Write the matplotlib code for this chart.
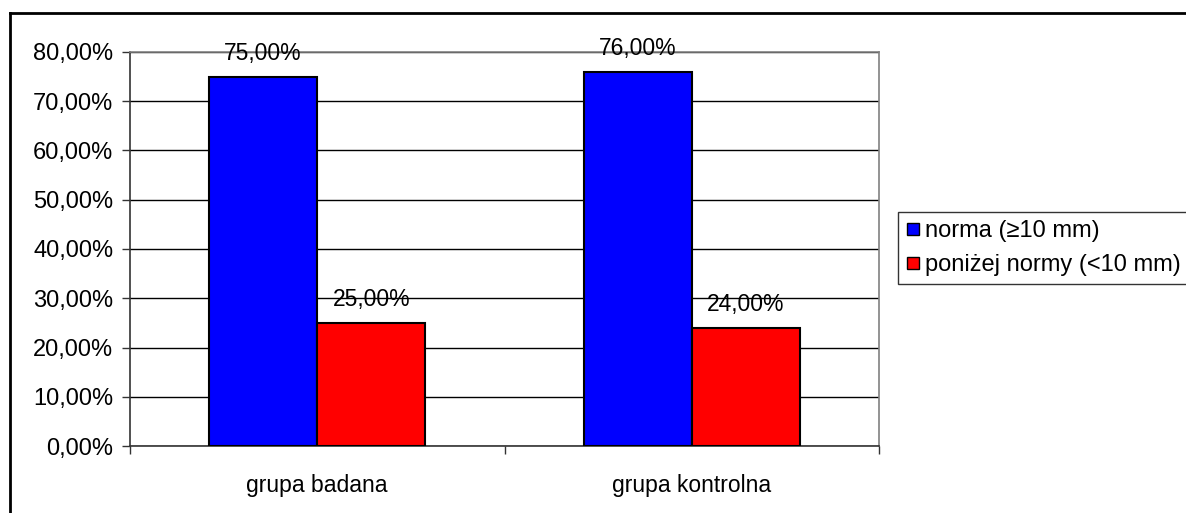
import numpy as np
import matplotlib
matplotlib.use('Agg')
import matplotlib.pyplot as plt
from matplotlib.lines import Line2D
from matplotlib.ticker import FuncFormatter, FixedLocator

plt.rc('font', family=['Liberation Sans', 'DejaVu Sans'], size=16.5)

# dane
grupy = ['grupa badana', 'grupa kontrolna']
norma = [75.0, 76.0]
ponizej = [25.0, 24.0]
serie = ['norma (≥10 mm)', 'poniżej normy (<10 mm)']
kolory = ['#0000ff', '#ff0000']

W, H = 1186, 513
fig = plt.figure(figsize=(W / 100, H / 100), dpi=100)
ax = fig.add_axes([130 / W, 1 - 446 / H, 749 / W, 394 / H])

x = np.arange(len(grupy))
w = 0.289
b1 = ax.bar(x - w / 2, norma, w, color=kolory[0], edgecolor='black', linewidth=1.5, zorder=3)
b2 = ax.bar(x + w / 2, ponizej, w, color=kolory[1], edgecolor='black', linewidth=1.5, zorder=3)

def pl(v):
    return '{:.2f}%'.format(v).replace('.', ',')

for bars, vals in [(b1, norma), (b2, ponizej)]:
    for r, v in zip(bars, vals):
        ax.annotate(pl(v), (r.get_x() + r.get_width() / 2, v), xytext=(0, 12),
                    textcoords='offset points', ha='center', va='baseline', zorder=4)

ax.set_xlim(-0.5, 1.5)
ax.set_ylim(0, 80)
ax.yaxis.set_major_locator(FixedLocator(np.arange(0, 81, 10)))
ax.yaxis.set_major_formatter(FuncFormatter(lambda v, p: pl(v)))
ax.grid(axis='y', color='black', linewidth=1, zorder=1)
ax.set_xticks(x)
ax.set_xticklabels(grupy)
ax.xaxis.set_minor_locator(FixedLocator([-0.5, 0.5, 1.5]))
ax.tick_params(axis='x', which='major', length=0, pad=20)
ax.tick_params(axis='x', which='minor', length=6, width=1, color='#333333')
ax.tick_params(axis='y', length=6, width=1, color='#333333', pad=6, labelsize=17)

for s in ['left', 'bottom']:
    ax.spines[s].set_color('#333333')
    ax.spines[s].set_linewidth(1.2)
for s in ['top', 'right']:
    ax.spines[s].set_color('#808080')
    ax.spines[s].set_linewidth(1.2)

uchwyty = [Line2D([], [], marker='s', linestyle='', markersize=9, markerfacecolor=c,
                  markeredgecolor='black', markeredgewidth=1) for c in kolory]
leg = fig.legend(uchwyty, serie, loc='upper left', bbox_to_anchor=(898 / W, 1 - 212 / H),
                 frameon=True, fancybox=False, handlelength=0.55, handletextpad=0.25,
                 borderpad=0.35, labelspacing=0.5, borderaxespad=0, fontsize=17)
leg.get_frame().set_edgecolor('black')
leg.get_frame().set_linewidth(1)
leg._legend_box.align = 'left'

# ramka wykresu
fig.add_artist(Line2D([9.5 / W, 9.5 / W], [-0.1, 1 - 13 / H], color='black', linewidth=2,
                      transform=fig.transFigure))
fig.add_artist(Line2D([9.5 / W, 1.1], [1 - 13 / H, 1 - 13 / H], color='black', linewidth=2,
                      transform=fig.transFigure))

fig.savefig('out.png', dpi=100, facecolor='white')
